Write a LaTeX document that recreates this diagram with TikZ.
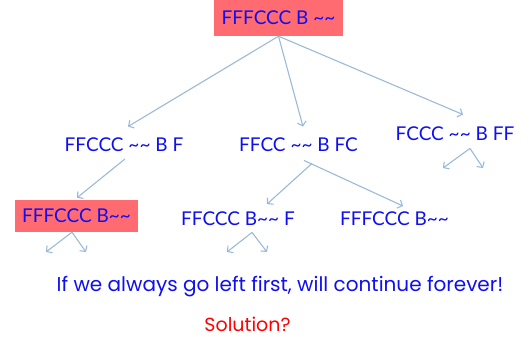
\documentclass[tikz,border=0pt]{standalone}
\usepackage{fontspec}
\usetikzlibrary{arrows.meta}
\newfontfamily\treefont{Lato}
\newfontfamily\notefont{Poppins}
\definecolor{statecol}{HTML}{0F0FF0}
\definecolor{boxred}{HTML}{FF6B70}
\definecolor{edgecol}{HTML}{9BBAD6}
\definecolor{solred}{HTML}{FF0000}
\tikzset{
  state/.style={inner sep=0pt, text height=13.5pt, text depth=0pt,
    text=statecol, font=\treefont\fontsize{19}{21}\selectfont},
  repeated/.style={state, fill=boxred},
  edge/.style={draw=edgecol, line width=1.1pt,
    -{Straight Barb[length=4pt,width=9pt,line width=1.1pt]}},
  note/.style={inner sep=0pt, text height=14pt, text depth=4pt,
    font=\notefont\fontsize{20}{24}\selectfont}
}
\begin{document}
\begin{tikzpicture}[x=1pt,y=-1pt]
\useasboundingbox (0,0) rectangle (531,337);

% states of the search tree
\node[repeated, minimum width=129pt, minimum height=36pt] (top) at (278.5,18) {FFFCCC B \char`\~\char`\~};
\node[state] (l1) at (124,145) {FFCCC \char`\~\char`\~{} B F};
\node[state] (m1) at (298.5,145) {FFCC \char`\~\char`\~{} B FC};
\node[state] (r1) at (455,134) {FCCC \char`\~\char`\~{} B FF};
\node[repeated, minimum width=123pt, minimum height=32pt] (l2) at (76.5,216) {FFFCCC B\char`\~\char`\~};
\node[state] (m2) at (238,219) {FFCCC B\char`\~\char`\~{} F};
\node[state] (r2) at (394.5,219) {FFFCCC B\char`\~\char`\~};

% loose ends of the unexpanded branches
\coordinate (r1a) at (443,168);
\coordinate (r1b) at (483,168);
\coordinate (l2a) at (46,252);
\coordinate (l2b) at (86,252);
\coordinate (m2a) at (227,252);
\coordinate (m2b) at (267,252);

% expansions
\draw[edge] (top.south) -- ([xshift=4pt,yshift=11.5pt]l1.north);
\draw[edge] (top.south) -- ([xshift=4.5pt,yshift=11.5pt]m1.north);
\draw[edge] (top.south) -- ([xshift=8pt,yshift=12.5pt]r1.north);
\draw[edge] ([xshift=1pt,yshift=-7pt]l1.south) -- ([xshift=0.5pt,yshift=2pt]l2.north);
\draw[edge] ([xshift=13.5pt,yshift=-11.5pt]m1.south) -- ([xshift=29pt,yshift=8pt]m2.north);
\draw[edge] ([xshift=5.5pt,yshift=-8.5pt]m1.south) -- ([xshift=8.5pt,yshift=6pt]r2.north);
\draw[edge] ([xshift=15pt,yshift=-7.5pt]r1.south) -- (r1a);
\draw[edge] ([xshift=15pt,yshift=-7.5pt]r1.south) -- (r1b);
\draw[edge] ([xshift=-4.5pt]l2.south) -- (l2a);
\draw[edge] ([xshift=-4.5pt]l2.south) -- (l2b);
\draw[edge] ([xshift=14pt,yshift=-6.5pt]m2.south) -- (m2a);
\draw[edge] ([xshift=14pt,yshift=-6.5pt]m2.south) -- (m2b);

% remarks
\node[note, text=statecol] (remark) at (280,286) {If we always go left first, will continue forever!};
\node[note, text=solred, font=\notefont\fontsize{19}{23}\selectfont] (question) at (247.5,326) {Solution?};
\end{tikzpicture}
\end{document}
